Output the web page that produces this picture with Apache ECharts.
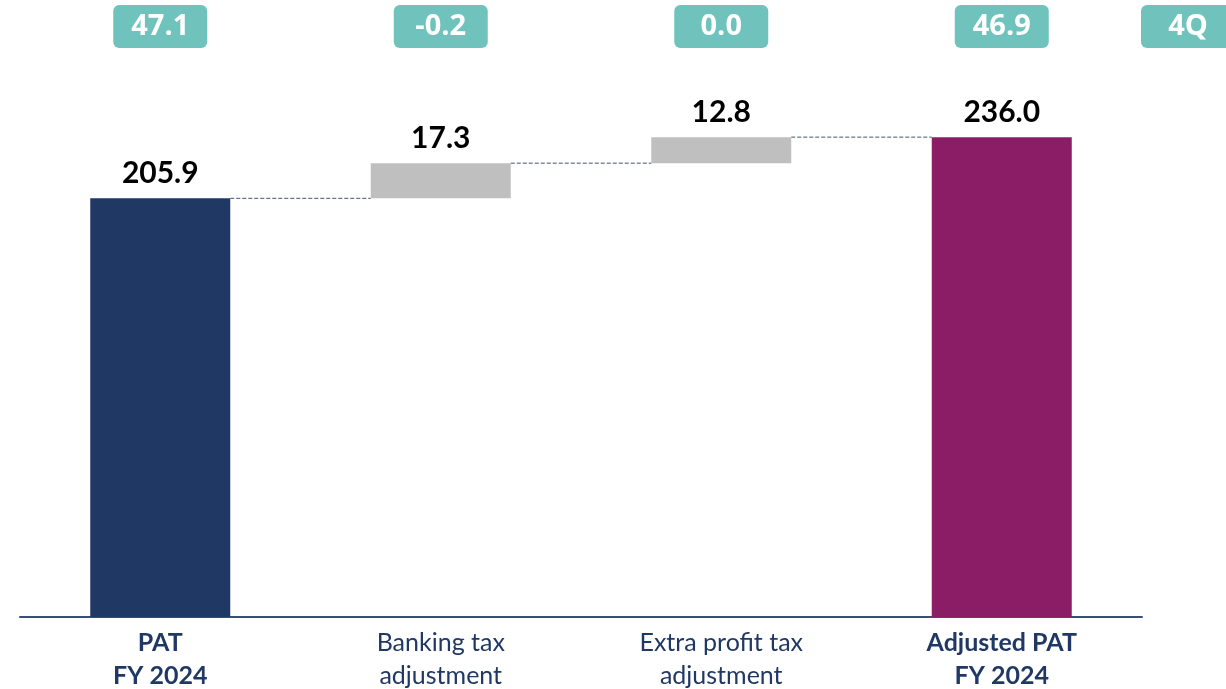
<!DOCTYPE html>
<html>
<head>
<meta charset="utf-8">
<script src="https://cdn.jsdelivr.net/npm/echarts@6/dist/echarts.min.js"></script>
<style>
  html, body { margin: 0; padding: 0; background: #fff; }
  #chart { width: 1226px; height: 689px; }
</style>
</head>
<body>
<div id="chart"></div>
<script>
// categories and values
const categories = ['PAT\nFY 2024', 'Banking tax\nadjustment', 'Extra profit tax\nadjustment', 'Adjusted PAT\nFY 2024']
const boldCats = [true, false, false, true]
const barValues = [205.9, 17.3, 12.8, 236.0]
const isTotal = [true, false, false, true]
const quarterValues = ['47.1', '-0.2', '0.0', '46.9']
const quarterTag = '4Q'

const BAR_W = 140
const colors = ['#203864', '#bfbfbf', '#bfbfbf', '#8b1c66']
const FONT = 'Lato'

// invisible base for the floating bars + connector levels
const baseValues = []
const levels = []
let running = 0
barValues.forEach((v, i) => {
  if (isTotal[i]) {
    baseValues.push(0)
    running = v
  } else {
    baseValues.push(running)
    running += v
  }
  levels.push(running)
})
const connectors = levels.slice(0, -1).map((lv, i) => [i, lv])

const chart = echarts.init(document.getElementById('chart'))
chart.setOption({
  animation: false,
  grid: [
    { left: 20, width: 1122, top: 7, height: 610 },
    { left: 20, width: 1122, top: 50, height: 10 }
  ],
  xAxis: [
    {
      type: 'category',
      data: categories,
      axisLine: { lineStyle: { color: '#3b4e78', width: 2 } },
      axisTick: { show: false },
      axisLabel: {
        margin: 9,
        interval: 0,
        formatter: (val, idx) => val.split('\n').map(s => (boldCats[idx] ? '{b|' : '{n|') + s + '}').join('\n'),
        rich: {
          b: { fontFamily: FONT, fontSize: 25, fontWeight: 'bold', color: '#203864', lineHeight: 33 },
          n: { fontFamily: FONT, fontSize: 25, color: '#203864', lineHeight: 33 }
        }
      }
    },
    {
      type: 'category',
      gridIndex: 1,
      position: 'top',
      data: categories,
      axisLine: { show: false },
      axisTick: { show: false },
      axisLabel: {
        margin: 2,
        interval: 0,
        formatter: (val, idx) => quarterValues[idx],
        color: '#fff',
        fontFamily: 'Open Sans',
        fontWeight: 'bold',
        fontSize: 29,
        backgroundColor: '#6fc3bc',
        borderRadius: 6,
        width: 94,
        height: 43,
        lineHeight: 43,
        align: 'center'
      }
    }
  ],
  yAxis: [
    { type: 'value', min: 0, max: 300, show: false },
    { type: 'value', gridIndex: 1, show: false }
  ],
  graphic: [
    { type: 'rect', left: 1141, top: 5, shape: { width: 100, height: 43, r: 6 }, style: { fill: '#6fc3bc' } },
    {
      type: 'text', x: 1188, y: 27,
      style: { text: quarterTag, fill: '#fff', font: 'bold 29px "Open Sans"', textAlign: 'center', textVerticalAlign: 'middle' }
    }
  ],
  series: [
    {
      type: 'bar',
      stack: 'wf',
      barWidth: BAR_W,
      data: baseValues,
      itemStyle: { color: 'transparent' },
      silent: true
    },
    {
      type: 'bar',
      stack: 'wf',
      barWidth: BAR_W,
      data: barValues.map((v, i) => ({ value: v, itemStyle: { color: colors[i] } })),
      label: {
        show: true,
        position: 'top',
        distance: 10,
        formatter: p => p.value.toFixed(1),
        color: '#000',
        fontFamily: FONT,
        fontWeight: 'bold',
        fontSize: 30
      }
    },
    {
      type: 'custom',
      data: connectors,
      z: 3,
      renderItem: (params, api) => {
        const i = api.value(0)
        const y = api.value(1)
        const p1 = api.coord([i, y])
        const p2 = api.coord([i + 1, y])
        return {
          type: 'line',
          shape: { x1: p1[0] + BAR_W / 2, y1: p1[1], x2: p2[0] - BAR_W / 2, y2: p2[1] },
          style: { stroke: '#44546a', lineWidth: 1, lineDash: [4, 2] }
        }
      }
    }
  ]
})
</script>
</body>
</html>
